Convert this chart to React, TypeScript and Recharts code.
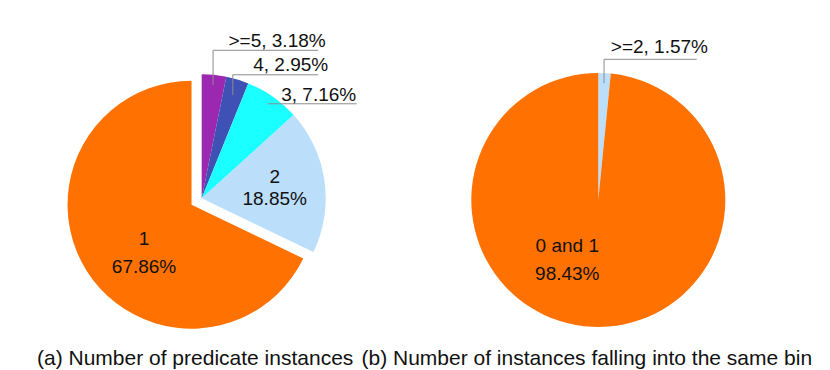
import { PieChart, Pie, Cell } from 'recharts';

// (a) predicate instances, clockwise from 12 o'clock
const predicateNames = ['>=5', '4', '3', '2', '1'];
const predicateShares = [3.18, 2.95, 7.16, 18.85, 67.86];
const predicateColors = ['#9c27b0', '#3f51b5', '#1affff', '#bbdefb', '#ff7100'];

// (b) instances falling into the same bin
const binNames = ['>=2', '0 and 1'];
const binShares = [1.57, 98.43];
const binColors = ['#bbdefb', '#ff7100'];

const captions = [
  '(a) Number of predicate instances',
  '(b) Number of instances falling into the same bin',
];

const FONT = 'Arial, "Liberation Sans", sans-serif';
const LABEL_SIZE = 19;
const RAD = Math.PI / 180;

// outside labels with a leader line: anchor radius (fraction), elbow / end offsets from centre
const callouts: Record<string, { r: number; elbowY?: number; lineEnd: number; textEnd: number; rise: number }> = {
  '>=5': { r: 0.92, elbowY: -148, lineEnd: 116.5, textEnd: 124, rise: 3.5 },
  '4': { r: 0.87, elbowY: -123.5, lineEnd: 116.5, textEnd: 126.5, rise: 3.5 },
  '3': { r: 0.93, lineEnd: 155, textEnd: 154.5, rise: 3 },
  '>=2': { r: 0.92, elbowY: -140.7, lineEnd: 98.4, textEnd: 109.7, rise: 6 },
};

// labels drawn inside the slice: offset of first baseline from centre, line gap
const insides: Record<string, { dx: number; dy: number; gap: number }> = {
  '2': { dx: 73, dy: -15, gap: 22 },
  '1': { dx: -47.5, dy: 40, gap: 28 },
  '0 and 1': { dx: -31, dy: 51.7, gap: 28.3 },
};

const toRows = (names: string[], values: number[]) =>
  names.map((name, i) => ({ name, value: values[i] }));

const predicateData = toRows(predicateNames, predicateShares);
const binData = toRows(binNames, binShares);

function renderLabel(filter: (name: string) => boolean) {
  return (p: any) => {
    const name: string = p.name ?? p.payload?.name;
    if (!filter(name)) return <g />;
    const pct = `${Number(p.value).toFixed(2)}%`;
    const inside = insides[name];
    if (inside) {
      const x = p.cx + inside.dx;
      const y = p.cy + inside.dy;
      return (
        <g>
          <text x={x} y={y} textAnchor="middle" fontSize={LABEL_SIZE} fontFamily={FONT} fill="#111">
            {name}
          </text>
          <text x={x} y={y + inside.gap} textAnchor="middle" fontSize={LABEL_SIZE} fontFamily={FONT} fill="#111">
            {pct}
          </text>
        </g>
      );
    }
    const c = callouts[name];
    if (!c) return <g />;
    const r = p.outerRadius * c.r;
    const ax = p.cx + r * Math.cos(-p.midAngle * RAD);
    const ay = p.cy + r * Math.sin(-p.midAngle * RAD);
    const ly = c.elbowY !== undefined ? p.cy + c.elbowY : ay;
    const pts =
      c.elbowY !== undefined
        ? `${ax},${ay} ${ax},${ly} ${p.cx + c.lineEnd},${ly}`
        : `${ax},${ay} ${p.cx + c.lineEnd},${ly}`;
    return (
      <g>
        <polyline points={pts} fill="none" stroke="#8c8c8c" strokeWidth={1} />
        <text x={p.cx + c.textEnd} y={ly - c.rise} textAnchor="end" fontSize={LABEL_SIZE} fontFamily={FONT} fill="#111">
          {`${name}, ${pct}`}
        </text>
      </g>
    );
  };
}

// left pie geometry; the "1" slice is pulled out along its mid angle
const leftCx = 201.7;
const leftCy = 198.3;
const leftR = 124;
const explode = 12;
const explodedIdx = predicateNames.indexOf('1');
const total = predicateShares.reduce((a, b) => a + b, 0);
const before = predicateShares.slice(0, explodedIdx).reduce((a, b) => a + b, 0);
const midDeg = ((before + predicateShares[explodedIdx] / 2) / total) * 360;
const explodedCx = leftCx + explode * Math.sin(midDeg * RAD);
const explodedCy = leftCy - explode * Math.cos(midDeg * RAD);

export default function App() {
  return (
    <div style={{ position: 'relative', width: 830, height: 370, background: '#fff' }}>
      <style>{'body{margin:0}'}</style>
      <PieChart width={830} height={370} margin={{ top: 0, right: 0, bottom: 0, left: 0 }}>
        <Pie
          data={predicateData}
          dataKey="value"
          nameKey="name"
          cx={explodedCx}
          cy={explodedCy}
          outerRadius={leftR}
          startAngle={90}
          endAngle={-270}
          stroke="none"
          labelLine={false}
          label={renderLabel((n) => n === '1')}
          isAnimationActive={false}
        >
          {predicateData.map((d, i) => (
            <Cell key={d.name} fill={i === explodedIdx ? predicateColors[i] : 'transparent'} />
          ))}
        </Pie>
        <Pie
          data={predicateData}
          dataKey="value"
          nameKey="name"
          cx={leftCx}
          cy={leftCy}
          outerRadius={leftR}
          startAngle={90}
          endAngle={-270}
          stroke="none"
          labelLine={false}
          label={renderLabel((n) => n !== '1')}
          isAnimationActive={false}
        >
          {predicateData.map((d, i) => (
            <Cell key={d.name} fill={i === explodedIdx ? 'transparent' : predicateColors[i]} />
          ))}
        </Pie>
        <Pie
          data={binData}
          dataKey="value"
          nameKey="name"
          cx={598.3}
          cy={200}
          outerRadius={127}
          startAngle={90}
          endAngle={-270}
          stroke="none"
          labelLine={false}
          label={renderLabel(() => true)}
          isAnimationActive={false}
        >
          {binData.map((d, i) => (
            <Cell key={d.name} fill={binColors[i]} />
          ))}
        </Pie>
      </PieChart>
      <svg width={830} height={370} style={{ position: 'absolute', left: 0, top: 0, pointerEvents: 'none' }}>
        <text x={37} y={365} fontSize={21} fontFamily={FONT} fill="#111">
          {captions[0]}
        </text>
        <text x={361.5} y={365} fontSize={21} fontFamily={FONT} fill="#111">
          {captions[1]}
        </text>
      </svg>
    </div>
  );
}
